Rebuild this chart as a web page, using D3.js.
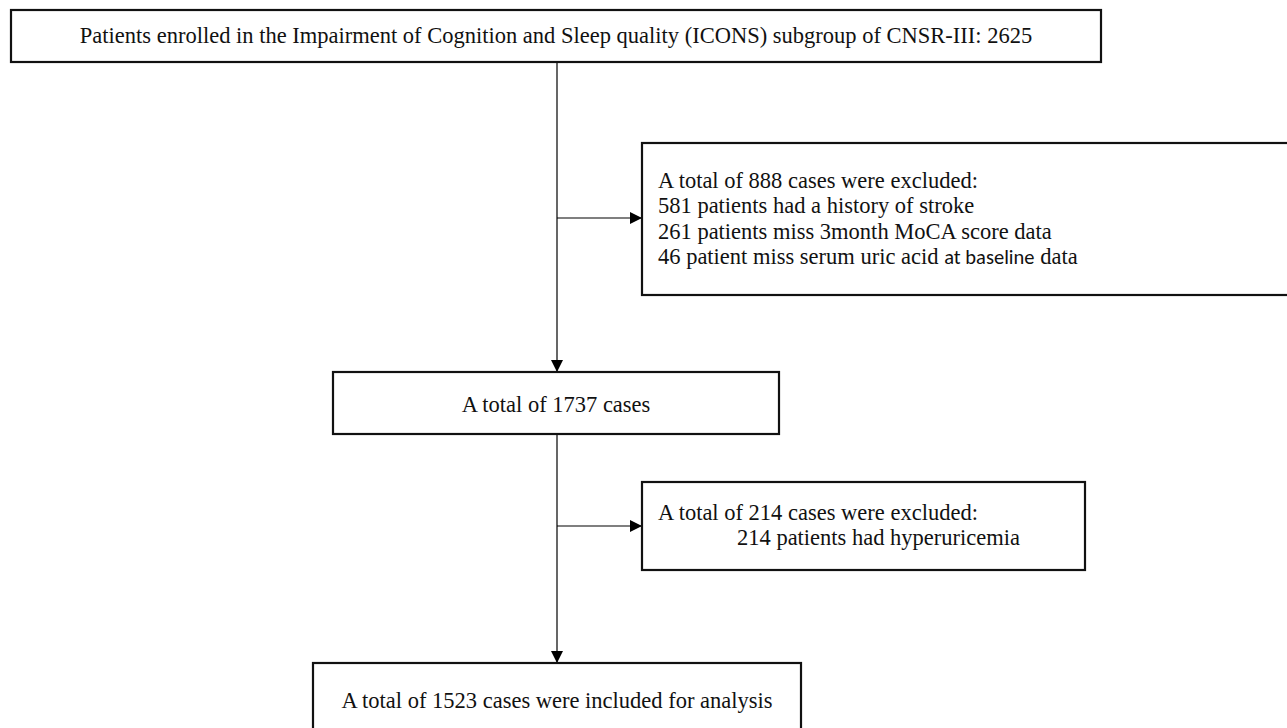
<!DOCTYPE html>
<html>
<head>
<meta charset="utf-8">
<script src="https://cdn.jsdelivr.net/npm/d3@7"></script>
<style>
  html, body { margin: 0; padding: 0; background: #fff; }
  svg text { font-family: "Liberation Serif", "Times New Roman", serif; fill: #111; }
</style>
</head>
<body>
<div id="chart"></div>
<script>
// flowchart contents
var enrolledText = ["Patients enrolled in the Impairment of Cognition and Sleep quality (ICONS) subgroup of CNSR-III: 2625"];
var excluded1Text = [
  "A total of 888 cases were excluded:",
  "581 patients had a history of stroke",
  "261 patients miss 3month MoCA score data",
  "46 patient miss serum uric acid |at baseline| data"
];
var remainingText = ["A total of 1737 cases"];
var excluded2Text = ["A total of 214 cases were excluded:", "214 patients had hyperuricemia"];
var includedText = ["A total of 1523 cases were included for analysis"];

var width = 1287, height = 728;

var svg = d3.select("#chart")
  .append("svg")
  .attr("width", width)
  .attr("height", height);

// arrow head
svg.append("defs").append("marker")
  .attr("id", "arrow")
  .attr("viewBox", "0 0 10 10")
  .attr("refX", 10)
  .attr("refY", 5)
  .attr("markerWidth", 12)
  .attr("markerHeight", 12)
  .attr("markerUnits", "userSpaceOnUse")
  .attr("orient", "auto")
  .append("path")
  .attr("d", "M0,0 L10,5 L0,10 Z")
  .attr("fill", "#000");

// layout of the boxes (x, y, w, h) and where text goes
var boxes = [
  {lines: enrolledText,  x: 11,  y: 10,  w: 1090, h: 52,  align: "middle", tx: 556, ty: 43},
  {lines: excluded1Text, x: 642, y: 143, w: 660,  h: 152, align: "start",  tx: 658, ty: 188},
  {lines: remainingText, x: 333, y: 372, w: 446,  h: 62,  align: "middle", tx: 556, ty: 412},
  {lines: excluded2Text, x: 642, y: 482, w: 443,  h: 88,  align: "start",  tx: 658, ty: 520, indent: [0, 79]},
  {lines: includedText,  x: 313, y: 663, w: 488,  h: 80,  align: "middle", tx: 557, ty: 708}
];

var lineGap = 25.3;
var cx = 557;

// connectors
var g = svg.append("g").attr("stroke", "#000").attr("stroke-width", 1.2).attr("fill", "none");
g.append("line").attr("x1", cx).attr("y1", 62).attr("x2", cx).attr("y2", 372).attr("marker-end", "url(#arrow)");
g.append("line").attr("x1", cx).attr("y1", 218).attr("x2", 642).attr("y2", 218).attr("marker-end", "url(#arrow)");
g.append("line").attr("x1", cx).attr("y1", 434).attr("x2", cx).attr("y2", 663).attr("marker-end", "url(#arrow)");
g.append("line").attr("x1", cx).attr("y1", 526).attr("x2", 642).attr("y2", 526).attr("marker-end", "url(#arrow)");

var box = svg.selectAll("g.box")
  .data(boxes)
  .enter()
  .append("g")
  .attr("class", "box");

box.append("rect")
  .attr("x", d => d.x)
  .attr("y", d => d.y)
  .attr("width", d => d.w)
  .attr("height", d => d.h)
  .attr("fill", "#fff")
  .attr("stroke", "#111")
  .attr("stroke-width", 2.2);

box.each(function(d) {
  var el = d3.select(this);
  d.lines.forEach(function(line, i) {
    var t = el.append("text")
      .attr("x", d.tx + (d.indent ? d.indent[i] : 0))
      .attr("y", d.ty + i * lineGap)
      .attr("text-anchor", d.align)
      .style("font-size", "22.5px");
    // parts between | | are set in a sans font like the original
    line.split("|").forEach(function(part, j) {
      var s = t.append("tspan").text(part);
      if (j % 2 == 1) {
        s.style("font-family", "Carlito, 'Liberation Sans', sans-serif")
         .style("font-size", "20.5px");
      }
    });
  });
});
</script>
</body>
</html>
